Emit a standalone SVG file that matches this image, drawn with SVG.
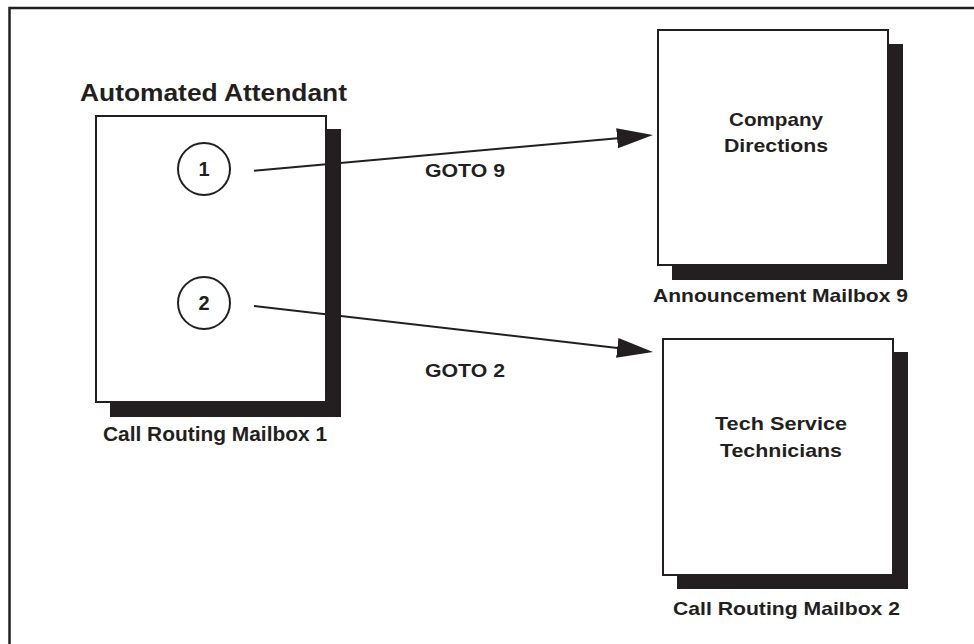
<svg xmlns="http://www.w3.org/2000/svg" width="974" height="644" viewBox="0 0 974 644">
<defs>
<style>
.frame{fill:none;stroke:#231f20;stroke-width:2.5}
.shadow{fill:#231f20}
.box{fill:#ffffff;stroke:#231f20;stroke-width:2}
.circ{fill:#ffffff;stroke:#231f20;stroke-width:2}
.conn{fill:none;stroke:#231f20;stroke-width:2}
.t{font-family:"Liberation Sans",Arial,Helvetica,sans-serif;font-weight:bold;fill:#231f20}
.s19{font-size:19px}
.s20{font-size:20px}
.s24{font-size:24px}
</style>
<marker id="arrow" markerUnits="userSpaceOnUse" markerWidth="38" markerHeight="22" refX="26" refY="10" orient="auto">
<path d="M0,0 L36,10 L0,20 z" fill="#231f20"/>
</marker>
</defs>
<rect width="974" height="644" fill="#ffffff"/>
<rect class="frame" x="9.5" y="8" width="980" height="660"/>

<g id="attendant">
<text class="t s24" x="80" y="101" textLength="267" lengthAdjust="spacingAndGlyphs">Automated Attendant</text>
<rect class="shadow" x="110" y="129" width="231" height="288"/>
<rect class="box" x="96" y="116" width="230" height="286"/>
<circle class="circ" cx="204" cy="169" r="26"/>
<text class="t s20" x="204" y="176" text-anchor="middle">1</text>
<circle class="circ" cx="204" cy="303" r="26"/>
<text class="t s20" x="204" y="310" text-anchor="middle">2</text>
<text class="t s20" x="103" y="441" textLength="224" lengthAdjust="spacingAndGlyphs">Call Routing Mailbox 1</text>
</g>

<g id="mailbox9">
<rect class="shadow" x="672" y="44" width="231" height="236"/>
<rect class="box" x="658" y="30" width="230" height="235"/>
<text class="t s19" x="729" y="126" textLength="94" lengthAdjust="spacingAndGlyphs">Company</text>
<text class="t s19" x="724" y="152" textLength="104" lengthAdjust="spacingAndGlyphs">Directions</text>
<text class="t s19" x="653" y="302" textLength="255" lengthAdjust="spacingAndGlyphs">Announcement Mailbox 9</text>
</g>

<g id="mailbox2">
<rect class="shadow" x="677" y="352" width="231" height="237"/>
<rect class="box" x="663" y="339" width="230" height="236"/>
<text class="t s19" x="715" y="430" textLength="132" lengthAdjust="spacingAndGlyphs">Tech Service</text>
<text class="t s19" x="720" y="457" textLength="122" lengthAdjust="spacingAndGlyphs">Technicians</text>
<text class="t s19" x="673" y="615" textLength="227" lengthAdjust="spacingAndGlyphs">Call Routing Mailbox 2</text>
</g>

<g id="connectors">
<line class="conn" x1="254" y1="170.7" x2="643" y2="135.9" marker-end="url(#arrow)"/>
<text class="t s19" x="425" y="177" textLength="80" lengthAdjust="spacingAndGlyphs">GOTO 9</text>
<line class="conn" x1="254" y1="306" x2="643.1" y2="350.9" marker-end="url(#arrow)"/>
<text class="t s19" x="425" y="377" textLength="80" lengthAdjust="spacingAndGlyphs">GOTO 2</text>
</g>
</svg>
